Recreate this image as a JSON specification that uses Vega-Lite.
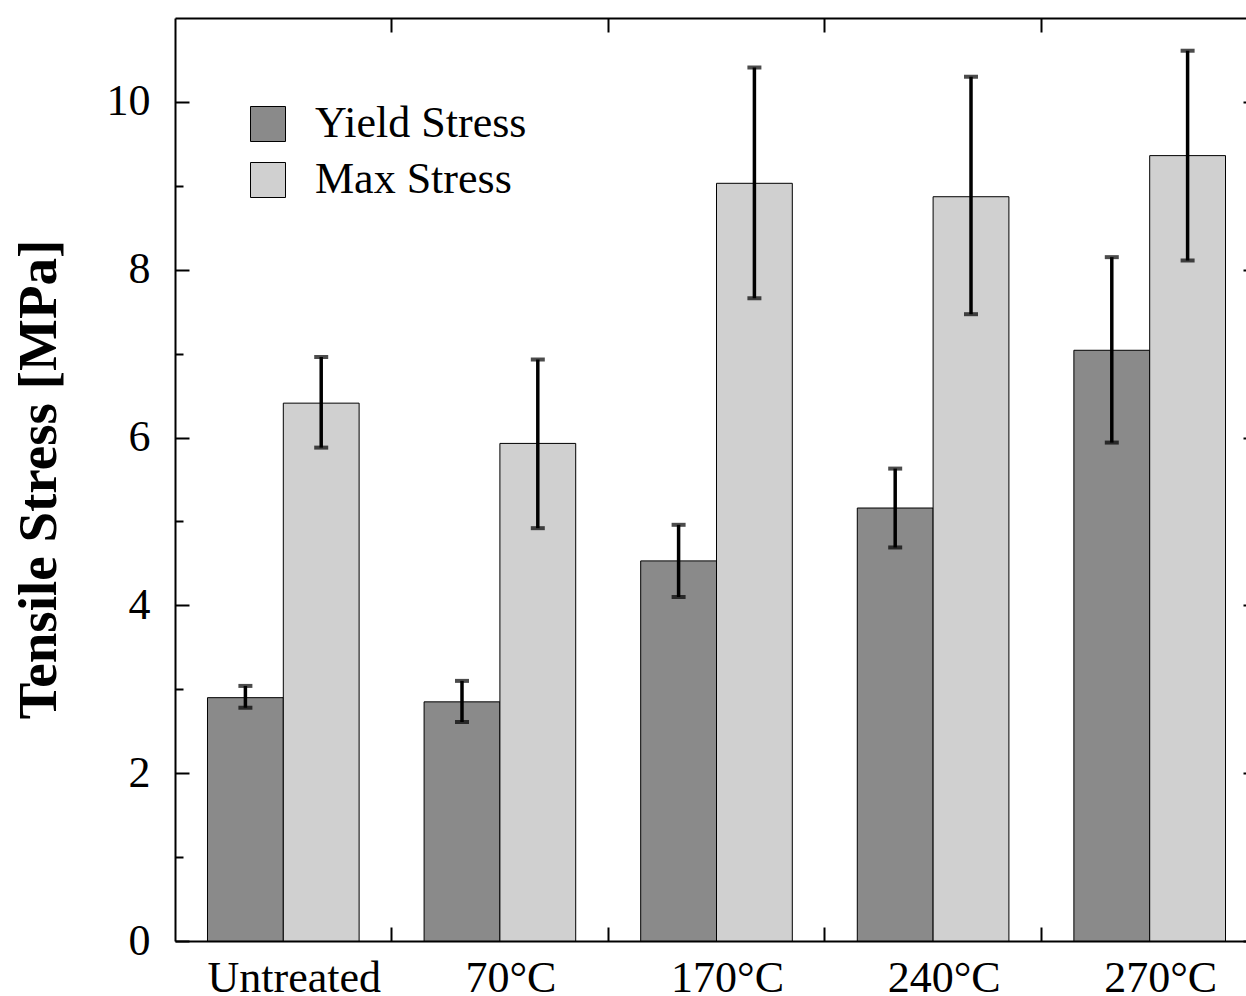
{
  "$schema": "https://vega.github.io/schema/vega-lite/v6.json",
  "autosize": {"type": "none"},
  "padding": {"left": 175, "top": 18, "right": 0, "bottom": 55},
  "width": 1071,
  "height": 923,
  "background": "white",
  "config": {
    "view": {"stroke": null},
    "font": "Liberation Serif",
    "axis": {
      "domainColor": "black",
      "domainWidth": 2,
      "tickColor": "black",
      "tickWidth": 2,
      "labelColor": "black",
      "labelFont": "Liberation Serif",
      "labelFontSize": 44,
      "titleColor": "black",
      "grid": false
    }
  },
  "data": {
    "values": [
      {"cat": "Untreated", "series": "Yield Stress", "value": 2.90, "lo": 2.78, "hi": 3.04},
      {"cat": "Untreated", "series": "Max Stress", "value": 6.41, "lo": 5.88, "hi": 6.96},
      {"cat": "70°C", "series": "Yield Stress", "value": 2.85, "lo": 2.61, "hi": 3.10},
      {"cat": "70°C", "series": "Max Stress", "value": 5.93, "lo": 4.92, "hi": 6.93},
      {"cat": "170°C", "series": "Yield Stress", "value": 4.53, "lo": 4.10, "hi": 4.96},
      {"cat": "170°C", "series": "Max Stress", "value": 9.03, "lo": 7.66, "hi": 10.41},
      {"cat": "240°C", "series": "Yield Stress", "value": 5.16, "lo": 4.69, "hi": 5.63},
      {"cat": "240°C", "series": "Max Stress", "value": 8.87, "lo": 7.47, "hi": 10.30},
      {"cat": "270°C", "series": "Yield Stress", "value": 7.04, "lo": 5.94, "hi": 8.15},
      {"cat": "270°C", "series": "Max Stress", "value": 9.36, "lo": 8.11, "hi": 10.61}
    ]
  },
  "resolve": {"axis": {"x": "independent", "y": "independent"}},
  "layer": [
    {
      "mark": {"type": "bar", "stroke": "black", "strokeWidth": 1},
      "encoding": {
        "x": {
          "field": "cat", "type": "nominal",
          "sort": ["Untreated", "70°C", "170°C", "240°C", "270°C"],
          "scale": {"range": [0, 1083], "paddingInner": 0.3, "paddingOuter": 0.15},
          "axis": {
            "orient": "bottom", "title": null, "labelAngle": 0,
            "tickSize": -14, "bandPosition": 1.214,
            "labelOffset": 11, "labelPadding": 64, "labelBaseline": "alphabetic"
          }
        },
        "xOffset": {
          "field": "series", "type": "nominal",
          "sort": ["Yield Stress", "Max Stress"],
          "scale": {"paddingInner": 0, "paddingOuter": 0}
        },
        "y": {
          "field": "value", "type": "quantitative",
          "scale": {"domain": [0, 11], "nice": false, "zero": true},
          "axis": {
            "orient": "left",
            "values": [0, 2, 4, 6, 8, 10],
            "tickSize": -14, "labelPadding": 39,
            "title": "Tensile Stress [MPa]",
            "titleFont": "Liberation Serif", "titleFontWeight": "bold", "titleFontSize": 55,
            "titleAngle": -90, "titleAlign": "center", "titleBaseline": "alphabetic",
            "titleX": -120, "titleY": 461
          }
        },
        "color": {
          "field": "series", "type": "nominal",
          "scale": {"domain": ["Yield Stress", "Max Stress"], "range": ["#8a8a8a", "#d0d0d0"]},
          "legend": {
            "title": null, "orient": "none", "legendX": 71, "legendY": 84,
            "padding": 0, "symbolType": "square", "symbolSize": 1225,
            "symbolStrokeColor": "black", "symbolStrokeWidth": 1,
            "labelFont": "Liberation Serif", "labelFontSize": 44, "labelColor": "black",
            "labelOffset": 25, "rowPadding": 12, "labelLimit": 400
          }
        }
      }
    },
    {
      "mark": {"type": "rule", "color": "black", "strokeWidth": 3.5},
      "encoding": {
        "x": {
          "field": "cat", "type": "nominal",
          "sort": ["Untreated", "70°C", "170°C", "240°C", "270°C"],
          "axis": {
            "orient": "top", "title": null, "labels": false,
            "tickSize": -14, "bandPosition": 1.214
          }
        },
        "xOffset": {"field": "series", "type": "nominal", "sort": ["Yield Stress", "Max Stress"]},
        "y": {
          "field": "lo", "type": "quantitative",
          "axis": {
            "orient": "right", "offset": 11, "domain": false, "labels": false,
            "values": [0, 2, 4, 6, 8, 10], "tickSize": -14, "title": null
          }
        },
        "y2": {"field": "hi"}
      }
    },
    {
      "mark": {"type": "tick", "color": "black", "size": 14, "thickness": 4, "orient": "horizontal"},
      "encoding": {
        "x": {"field": "cat", "type": "nominal", "sort": ["Untreated", "70°C", "170°C", "240°C", "270°C"], "axis": null},
        "xOffset": {"field": "series", "type": "nominal", "sort": ["Yield Stress", "Max Stress"]},
        "y": {
          "field": "lo", "type": "quantitative",
          "axis": {
            "orient": "left", "domain": false, "labels": false,
            "values": [1, 3, 5, 7, 9], "tickSize": -8, "title": null
          }
        }
      }
    },
    {
      "mark": {"type": "tick", "color": "black", "size": 14, "thickness": 4, "orient": "horizontal"},
      "encoding": {
        "x": {"field": "cat", "type": "nominal", "sort": ["Untreated", "70°C", "170°C", "240°C", "270°C"], "axis": null},
        "xOffset": {"field": "series", "type": "nominal", "sort": ["Yield Stress", "Max Stress"]},
        "y": {"field": "hi", "type": "quantitative", "axis": null}
      }
    }
  ]
}
